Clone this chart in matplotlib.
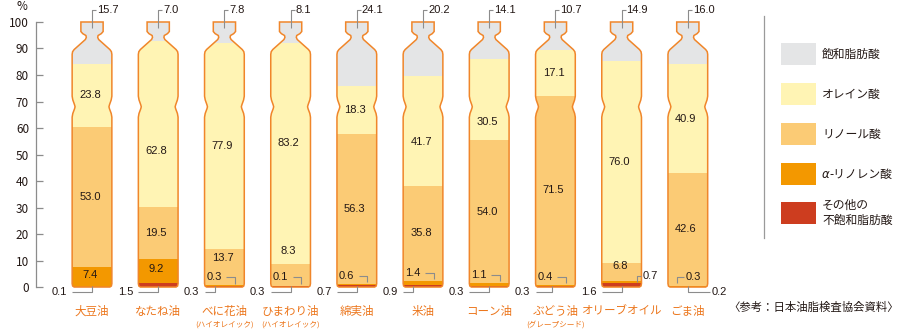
import matplotlib.pyplot as plt
from matplotlib.path import Path
from matplotlib.patches import PathPatch, Rectangle

plt.rcParams['font.family'] = ['Noto Sans CJK JP', 'DejaVu Sans']

oils = ['大豆油', 'なたね油', 'べに花油', 'ひまわり油', '綿実油',
        '米油', 'コーン油', 'ぶどう油', 'オリーブオイル', 'ごま油']
notes = ['', '', '(ハイオレイック)', '(ハイオレイック)', '',
         '', '', '(グレープシード)', '', '']

saturated = [15.7, 7.0, 7.8, 8.1, 24.1, 20.2, 14.1, 10.7, 14.9, 16.0]
oleic = [23.8, 62.8, 77.9, 83.2, 18.3, 41.7, 30.5, 17.1, 76.0, 40.9]
linoleic = [53.0, 19.5, 13.7, 8.3, 56.3, 35.8, 54.0, 71.5, 6.8, 42.6]
linolenic = [7.4, 9.2, 0.3, 0.1, 0.6, 1.4, 1.1, 0.4, 0.7, 0.3]
other = [0.1, 1.5, 0.3, 0.3, 0.7, 0.9, 0.3, 0.3, 1.6, 0.2]

legend_names = ['飽和脂肪酸', 'オレイン酸', 'リノール酸', '-リノレン酸', 'その他の\n不飽和脂肪酸']
colors = ['#e4e5e6', '#fff4b4', '#fbcb75', '#f39800', '#cd3d1f']
outline = '#f0862a'
ink = '#231815'
guide = '#8c8c8c'
orange_text = '#ec761c'
num_font = ['Liberation Sans Narrow', 'Liberation Sans']

# right half of the bottle outline (x offset from centre, height in %)
right_side = [(0.168, 100), (0.168, 96.4), (0.14, 95.6), (0.092, 94.9), (0.086, 94.2),
              (0.10, 93.4), (0.27, 89.6), (0.293, 88.8), (0.30, 87.8), (0.30, 72.0),
              (0.29, 70.6), (0.263, 68.7), (0.256, 68.0), (0.263, 67.3), (0.29, 65.5),
              (0.30, 64.1), (0.30, 1.3), (0.293, 0.4), (0.27, 0.0)]


def bottle_path(cx):
    pts = [(cx + dx, y) for dx, y in right_side]
    pts += [(cx - dx, y) for dx, y in reversed(right_side)]
    return Path(pts + [pts[0]], closed=True)


fig = plt.figure(figsize=(9, 3.29), dpi=100)
ax = fig.add_axes([0.04, 0.0027, 0.76, 0.9788])
ax.set_xlim(-0.846, 9.486)
ax.set_ylim(-15.5, 106)

x = list(range(len(oils)))
bottles = []
for cx in x:
    p = PathPatch(bottle_path(cx), fc='none', ec=outline, lw=1.1, zorder=3)
    ax.add_patch(p)
    bottles.append(p)

# stacked from the bottom: other, α-linolenic, linoleic, oleic, saturated
stack = [other, linolenic, linoleic, oleic, saturated]
stack_colors = [colors[4], colors[3], colors[2], colors[1], colors[0]]
bottom = [0.0] * len(oils)
edges = []
for vals, col in zip(stack, stack_colors):
    bars = ax.bar(x, vals, width=0.62, bottom=bottom, color=col, lw=0, zorder=2)
    for rect, p in zip(bars, bottles):
        rect.set_clip_path(p)
    edges.append(list(bottom))
    bottom = [b + v for b, v in zip(bottom, vals)]
edges.append(bottom)

oleic_label_y = {1: 51.3, 3: 54.3, 5: 54.7, 6: 62.3}
linoleic_label_y = {2: 10.9, 3: 13.6, 8: 7.9}
other_line_dx = {2: -0.14, 5: -0.15, 7: -0.05}

num_kw = dict(family=num_font, fontsize=8, color=ink, va='center', zorder=5)
line_kw = dict(color=guide, lw=0.8, zorder=4, solid_capstyle='butt')

for i, cx in enumerate(x):
    # saturated: callout above the cap
    ax.plot([cx, cx, cx + 0.06], [97.8, 104.5, 104.5], **line_kw)
    ax.text(cx + 0.075, 104.5, f'{saturated[i]:.1f}', ha='left', **num_kw)

    # oleic and linoleic inside their bands
    y_ol = oleic_label_y.get(i, (edges[3][i] + edges[4][i]) / 2)
    ax.text(cx - 0.03, y_ol, f'{oleic[i]:.1f}', ha='center', **num_kw)
    y_li = linoleic_label_y.get(i, (edges[2][i] + edges[3][i]) / 2)
    ax.text(cx - 0.03, y_li, f'{linoleic[i]:.1f}', ha='center', **num_kw)

    # α-linolenic
    top_a = edges[2][i]
    if linolenic[i] >= 5:
        ax.text(cx - 0.03, (edges[1][i] + top_a) / 2 + 0.8, f'{linolenic[i]:.1f}',
                ha='center', **num_kw)
    elif i == 8:
        ax.plot([cx + 0.227, cx + 0.227, cx + 0.30], [2.0, 4.3, 4.3], **line_kw)
        ax.text(cx + 0.31, 4.3, f'{linolenic[i]:.1f}', ha='left', **num_kw)
    elif i == 9:
        ax.plot([cx - 0.16, cx - 0.16, cx - 0.06], [1.4, 3.9, 3.9], **line_kw)
        ax.text(cx - 0.03, 3.9, f'{linolenic[i]:.1f}', ha='left', **num_kw)
    else:
        yt = max(3.6, top_a + 3.0)
        ax.plot([cx + 0.03, cx + 0.16, cx + 0.16], [yt, yt, yt - 2.3], **line_kw)
        ax.text(cx - 0.16, yt, f'{linolenic[i]:.1f}', ha='center', **num_kw)

    # other unsaturated: callout below the bottle
    if i == 9:
        ax.plot([cx, cx, cx + 0.33], [0.4, -2.0, -2.0], **line_kw)
        ax.text(cx + 0.36, -2.0, f'{other[i]:.1f}', ha='left', **num_kw)
    else:
        lx = cx + other_line_dx.get(i, 0.0)
        ax.plot([lx, lx, cx - 0.30], [0.4, -2.0, -2.0], **line_kw)
        ax.text(cx - 0.38, -2.0, f'{other[i]:.1f}', ha='right', **num_kw)

    # oil names
    ax.text(cx, -9.1, oils[i], ha='center', va='center', fontsize=8.3,
            color=orange_text, zorder=5)
    if notes[i]:
        ax.text(cx, -14.0, notes[i], ha='center', va='center', fontsize=5.5,
                color=orange_text, zorder=5)

# axis styling
for side in ['top', 'right', 'bottom']:
    ax.spines[side].set_visible(False)
ax.spines['left'].set_bounds(0, 100)
ax.spines['left'].set_color(guide)
ax.spines['left'].set_linewidth(0.9)
ax.set_xticks([])
ax.set_yticks(range(0, 101, 10))
ax.tick_params(axis='y', direction='in', length=5, width=0.9, color=guide,
               labelsize=8.5, labelcolor=ink, pad=5)
ax.patch.set_alpha(0)

# overlay in pixel units for legend and notes
ov = fig.add_axes([0, 0, 1, 1])
ov.set_xlim(0, 900)
ov.set_ylim(329, 0)
ov.axis('off')
ov.patch.set_alpha(0)

ov.text(22, 7, '%', ha='center', va='center', fontsize=8.5, color=ink)
ov.plot([764, 764], [16, 238], color='#9a9a9a', lw=0.9)

row_y = [54, 94, 134, 174, 213]
for name, col, yy in zip(legend_names, colors, row_y):
    ov.add_patch(Rectangle((781, yy - 11), 35, 22, fc=col, ec='none'))
    if name.startswith('-'):
        ov.text(822, yy, 'α', ha='left', va='center', fontsize=8.5, color=ink,
                family='DejaVu Sans', style='italic')
        ov.text(829, yy, name, ha='left', va='center', fontsize=8.5, color=ink)
    else:
        ov.text(822, yy, name, ha='left', va='center', fontsize=8.5, color=ink,
                linespacing=1.25)

ov.text(899, 307, '〈参考：日本油脂検査協会資料〉', ha='right', va='center',
        fontsize=8.2, color=ink)

fig.savefig('out.png', dpi=100)
